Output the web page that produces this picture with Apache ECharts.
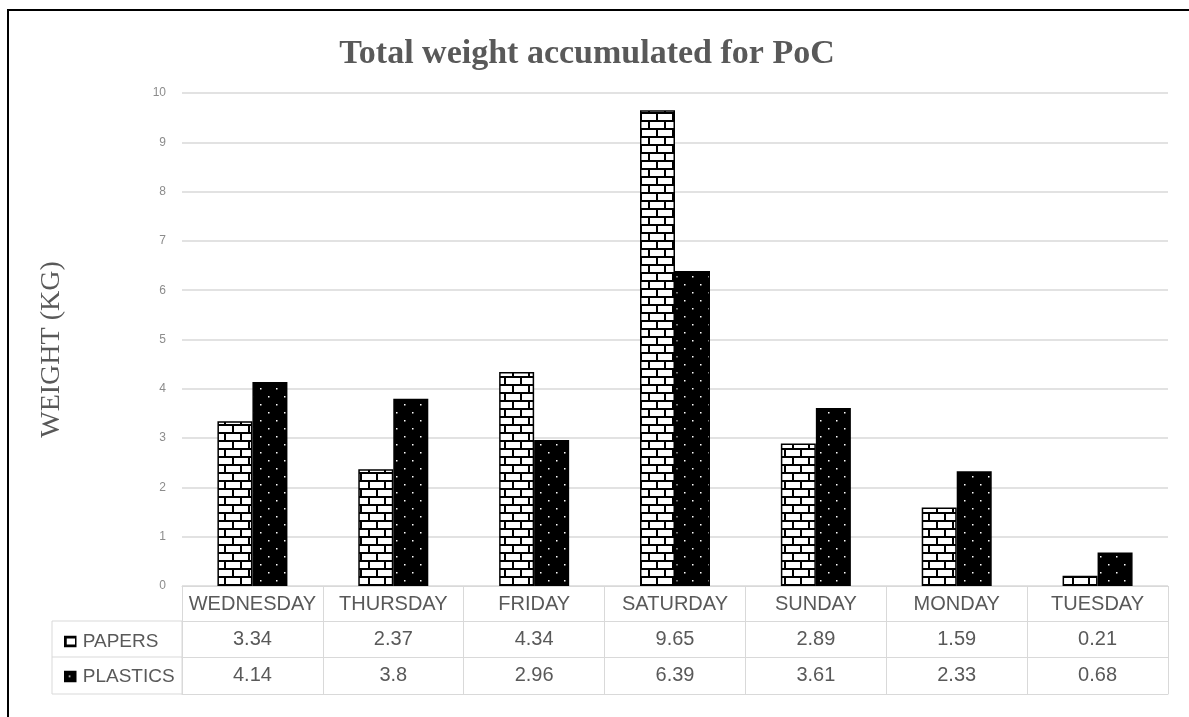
<!DOCTYPE html>
<html>
  <head>
    <title></title>
    <meta charset="UTF-8" />
    <script src="https://cdn.jsdelivr.net/npm/echarts@6/dist/echarts.min.js"></script>
    <style>
      html, body { margin: 0; padding: 0; background: #fff; }
    </style>
  </head>
  <body>
    <div id="main"></div>
    <script>
      const width = 1189;
      const height = 717;
      const main = document.getElementById('main');
      main.style.width = `${width}px`;
      main.style.height = `${height}px`;

      const days = ['WEDNESDAY', 'THURSDAY', 'FRIDAY', 'SATURDAY', 'SUNDAY', 'MONDAY', 'TUESDAY'];
      const papers = [3.34, 2.37, 4.34, 9.65, 2.89, 1.59, 0.21];
      const plastics = [4.14, 3.8, 2.96, 6.39, 3.61, 2.33, 0.68];
      const yTicks = [0, 1, 2, 3, 4, 5, 6, 7, 8, 9, 10];

      const GRAY = '#595959';
      const LINE = '#d9d9d9';
      const SANS = 'Liberation Sans';
      const SERIF = 'Liberation Serif';

      // brick fill for papers
      function brickPattern() {
        const c = document.createElement('canvas');
        c.width = 16;
        c.height = 16;
        const ctx = c.getContext('2d');
        ctx.fillStyle = '#fff';
        ctx.fillRect(0, 0, 16, 16);
        ctx.fillStyle = '#000';
        ctx.fillRect(0, 0, 16, 2);
        ctx.fillRect(0, 8, 16, 2);
        ctx.fillRect(0, 0, 2, 8);
        ctx.fillRect(8, 8, 2, 8);
        return { image: c, repeat: 'repeat' };
      }

      // black with small white dots for plastics
      function dotPattern() {
        const c = document.createElement('canvas');
        c.width = 16;
        c.height = 16;
        const ctx = c.getContext('2d');
        ctx.fillStyle = '#000';
        ctx.fillRect(0, 0, 16, 16);
        ctx.fillStyle = '#fff';
        ctx.fillRect(4, 4, 1.5, 1.5);
        ctx.fillRect(12, 12, 1.5, 1.5);
        return { image: c, repeat: 'repeat' };
      }

      // one x axis per table row, stacked below the plot
      function tableAxis(offset, tickLen, labels) {
        return {
          type: 'category',
          data: days,
          position: 'bottom',
          offset,
          axisLine: { show: true, lineStyle: { color: LINE, width: 1 } },
          axisTick: { show: tickLen > 0, length: tickLen, lineStyle: { color: LINE } },
          axisLabel: {
            show: !!labels,
            interval: 0,
            margin: 8,
            fontFamily: SANS,
            fontSize: 20,
            color: GRAY,
            formatter: (v, i) => (labels ? String(labels[i]) : ''),
          },
        };
      }

      const myChart = echarts.init(main);
      const option = {
        animation: false,
        title: {
          text: 'Total weight accumulated for PoC',
          left: 582,
          textAlign: 'center',
          top: 32,
          textStyle: {
            fontFamily: SERIF,
            fontWeight: 'bold',
            fontSize: 34,
            color: GRAY,
          },
        },
        legend: {
          orient: 'vertical',
          left: 59,
          top: 627,
          icon: 'rect',
          itemWidth: 11,
          itemHeight: 10,
          itemGap: 16,
          itemStyle: { borderColor: '#000', borderWidth: 1.5 },
          textStyle: {
            fontFamily: SANS,
            fontSize: 19,
            color: GRAY,
            padding: [0, 0, 0, 2],
          },
          data: ['PAPERS', 'PLASTICS'],
        },
        grid: {
          left: 182,
          right: 21,
          top: 93,
          bottom: 131,
        },
        xAxis: [
          tableAxis(0, 35, days),
          tableAxis(35, 36, papers),
          tableAxis(71, 37, plastics),
          tableAxis(108, 0, null),
        ],
        yAxis: {
          type: 'value',
          min: 0,
          max: 10,
          interval: 1,
          name: 'WEIGHT (KG)',
          nameLocation: 'middle',
          nameGap: 116,
          nameTextStyle: {
            fontFamily: SERIF,
            fontSize: 28,
            color: GRAY,
            padding: [0, 20, 0, 0],
          },
          axisLine: { show: false },
          axisTick: { show: false },
          axisLabel: {
            margin: 16,
            fontFamily: SANS,
            fontSize: 12,
            color: '#8c8c8c',
            formatter: (v) => (yTicks.includes(v) ? String(v) : ''),
          },
          splitLine: { lineStyle: { color: LINE, width: 1.5 } },
        },
        series: [
          {
            name: 'PAPERS',
            type: 'bar',
            data: papers,
            barWidth: 35,
            barGap: '0%',
            itemStyle: { color: brickPattern(), borderColor: '#000', borderWidth: 1.5 },
          },
          {
            name: 'PLASTICS',
            type: 'bar',
            data: plastics,
            barWidth: 35,
            barGap: '0%',
            itemStyle: { color: dotPattern(), borderColor: '#000', borderWidth: 1.5 },
          },
        ],
        graphic: [
          {
            type: 'rect',
            shape: { x: 52, y: 621, width: 130, height: 73 },
            style: { fill: 'none', stroke: LINE, lineWidth: 1 },
            silent: true,
          },
          {
            type: 'line',
            shape: { x1: 52, y1: 657, x2: 182, y2: 657 },
            style: { stroke: LINE, lineWidth: 1 },
            silent: true,
          },
          {
            type: 'line',
            shape: { x1: 8, y1: 10, x2: 1189, y2: 10 },
            style: { stroke: '#000', lineWidth: 2 },
            silent: true,
          },
          {
            type: 'line',
            shape: { x1: 8, y1: 9, x2: 8, y2: 717 },
            style: { stroke: '#000', lineWidth: 2 },
            silent: true,
          },
        ],
      };
      myChart.setOption(option);
    </script>
  </body>
</html>
